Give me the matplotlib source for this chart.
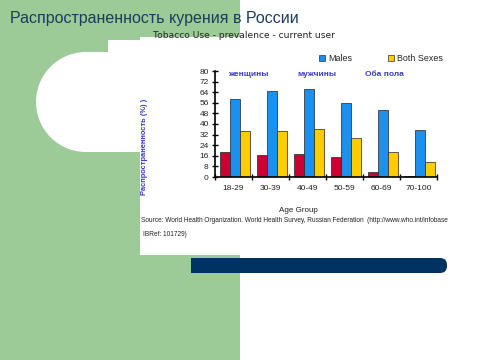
import matplotlib
matplotlib.use("Agg")
import matplotlib.pyplot as plt
from matplotlib.patches import Rectangle, Circle, FancyBboxPatch
import numpy as np

# ---- data ----
age_groups = ["18-29", "30-39", "40-49", "50-59", "60-69", "70-100"]
females = [19.0, 16.3, 17.6, 14.8, 4.0, 0.5]
males = [59.0, 65.2, 66.2, 55.7, 50.4, 35.4]
both_sexes = [34.4, 34.9, 36.6, 29.1, 18.6, 11.0]
yticks = list(range(0, 81, 8))

W, H = 480, 360
fig = plt.figure(figsize=(4.8, 3.6), dpi=100)
fig.patch.set_facecolor("white")

# background axes in pixel coordinates
bg = fig.add_axes([0, 0, 1, 1])
bg.set_xlim(0, W)
bg.set_ylim(H, 0)
bg.axis("off")
green = "#9ccb98"
bg.add_patch(Rectangle((0, 0), 240, 360, color=green, lw=0))
# white card and shape
bg.add_patch(Rectangle((140, 37), 340, 218, color="white", lw=0))
bg.add_patch(Rectangle((108, 40), 40, 14, color="white", lw=0))
bg.add_patch(Rectangle((86, 52), 60, 100, color="white", lw=0))
bg.add_patch(Circle((86, 102), 50, color="white", lw=0))
bg.add_patch(Rectangle((240, 0), 240, 37, color="white", lw=0))
# dark blue bar
bg.add_patch(FancyBboxPatch((191, 258), 256, 15, boxstyle="round,pad=0,rounding_size=7",
                            color="#00335f", lw=0))
bg.add_patch(Rectangle((191, 258), 20, 15, color="#00335f", lw=0))

def px(x, y):
    return x / W, 1 - y / H

fig.text(*px(10, 18), "Распространенность курения в России", fontsize=11.5,
         family="Liberation Sans", color="#1b3c5c", va="center", ha="left")
fig.text(*px(153, 35), "Tobacco Use - prevalence - current user", fontsize=6.6,
         family="DejaVu Sans", color="#222222", va="center", ha="left")

# legend
bg.add_patch(Rectangle((319, 55), 6, 6, facecolor="#1a90f0", edgecolor="#333333", lw=0.5))
fig.text(*px(328, 58.5), "Males", fontsize=6.4, family="Liberation Sans", color="#222222",
         va="center", ha="left")
bg.add_patch(Rectangle((388, 55), 6, 6, facecolor="#ffcc00", edgecolor="#333333", lw=0.5))
fig.text(*px(397, 58.5), "Both Sexes", fontsize=6.4, family="Liberation Sans", color="#222222",
         va="center", ha="left")

# annotations
ann_col = "#3b3bc8"
for x, t in [(228, "женщины"), (297, "мужчины"), (365, "Оба пола")]:
    fig.text(*px(x, 75), t, fontsize=6.0, family="Liberation Sans", weight="bold",
             color=ann_col, va="center", ha="left")

# y label
fig.text(*px(145, 147), "Распространенность (%) )", fontsize=5.4, family="Liberation Sans",
         weight="bold", color=ann_col, rotation=90, va="center", ha="center")

fig.text(*px(298, 211), "Age Group", fontsize=5.8, family="Liberation Sans",
         color="#222222", va="center", ha="center")
fig.text(*px(141, 221), "Source: World Health Organization. World Health Survey, Russian Federation  (http://www.who.int/infobase",
         fontsize=4.7, family="Liberation Sans", color="#222222", va="center", ha="left")
fig.text(*px(143, 235), "IBRef: 101729)", fontsize=4.7, family="Liberation Sans",
         color="#222222", va="center", ha="left")

# chart axes
left, right, top, bottom = 215, 437, 71, 177
ax = fig.add_axes([left / W, 1 - bottom / H, (right - left) / W, (bottom - top) / H])
ax.set_facecolor("none")
x = np.arange(len(age_groups)) + 0.5
bw = 0.27
ax.bar(x - bw + 0.03, females, bw, color="#cc0033", edgecolor="#222222", lw=0.5)
ax.bar(x + 0.03, males, bw, color="#1a90f0", edgecolor="#222222", lw=0.5)
ax.bar(x + bw + 0.03, both_sexes, bw, color="#ffcc00", edgecolor="#222222", lw=0.5)
ax.set_xlim(0, len(age_groups))
ax.set_ylim(0, 80)
ax.set_yticks(yticks)
ax.set_yticklabels([str(v) for v in yticks], fontsize=6, family="Liberation Sans", color="#222222")
ax.set_xticks(np.arange(len(age_groups) + 1))
ax.set_xticklabels([])
ax.set_xticks(x, minor=True)
ax.set_xticklabels(age_groups, minor=True, fontsize=6, family="Liberation Sans", color="#222222")
ax.tick_params(axis="x", which="minor", length=0, pad=6)
ax.tick_params(axis="both", which="major", direction="inout", length=5, width=1, color="black")
ax.tick_params(axis="y", pad=2)
for s in ["top", "right"]:
    ax.spines[s].set_visible(False)
for s in ["left", "bottom"]:
    ax.spines[s].set_linewidth(1.2)

fig.savefig("out.png", dpi=100)
